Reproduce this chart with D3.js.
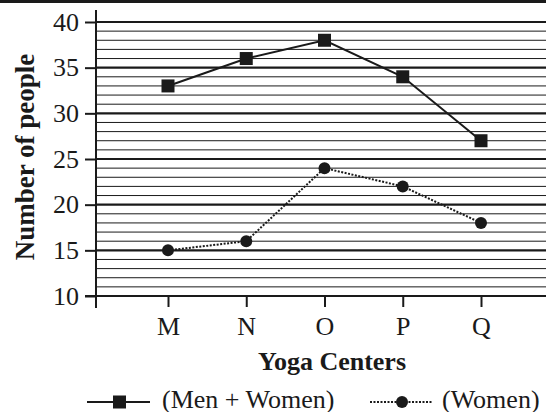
<!DOCTYPE html>
<html><head><meta charset="utf-8">
<script src="https://cdn.jsdelivr.net/npm/d3@7"></script>
<style>body{margin:0;background:#fff}svg{display:block}</style>
</head><body>
<script>
const categories = ["M","N","O","P","Q"];
const menWomen = [33,36,38,34,27];
const women = [15,16,24,22,18];
const yTicks = [10,15,20,25,30,35,40];

(function(){
const W=546,H=412;
const svg=d3.select("body").append("svg").attr("width",W).attr("height",H);
const font="Liberation Serif, Times New Roman, serif";
const ink="#1a1a1a";
const fs=26;
svg.append("rect").attr("x",0).attr("y",0).attr("width",W).attr("height",3).attr("fill",ink);

const pL=96,pR=546,pT=22,pB=296;
const y=d3.scaleLinear().domain([10,40]).range([pB,pT]);
const x=d3.scalePoint().domain(categories).range([168,481]);

// grid
const g=svg.append("g");
d3.range(11,41).forEach(v=>{
  const major=v%5===0;
  g.append("line").attr("x1",pL).attr("x2",pR).attr("y1",y(v)).attr("y2",y(v))
   .attr("stroke",ink).attr("stroke-width",major?2.2:1);
});
// y axis
const ya=svg.append("g").attr("transform",`translate(${pL},0)`)
 .call(d3.axisLeft(y).tickValues(yTicks).tickSize(11).tickPadding(6));
ya.select(".domain").attr("stroke",ink).attr("stroke-width",2).attr("d",`M0,${pT-12}V${pB+12}`);
ya.selectAll(".tick line").attr("stroke",ink).attr("stroke-width",2);
ya.selectAll(".tick text").attr("font-family",font).attr("font-size",fs).attr("fill",ink);

// x axis
const xa=svg.append("g").attr("transform",`translate(0,${pB})`)
 .call(d3.axisBottom(x).tickSize(11).tickPadding(8));
xa.select(".domain").attr("stroke",ink).attr("stroke-width",2).attr("d",`M85,0H${pR}`);
xa.selectAll(".tick line").attr("stroke",ink).attr("stroke-width",2);
xa.selectAll(".tick text").attr("font-family",font).attr("font-size",fs).attr("fill",ink)
  .attr("dy",null).attr("y",39);

// lines
const line=d3.line().x((d,i)=>x(categories[i])).y(d=>y(d));
svg.append("path").datum(menWomen).attr("d",line).attr("fill","none").attr("stroke",ink).attr("stroke-width",2);
svg.append("path").datum(women).attr("d",line).attr("fill","none").attr("stroke",ink).attr("stroke-width",2).attr("stroke-dasharray","2,1.5");
svg.selectAll(".sq").data(menWomen).enter().append("rect")
 .attr("x",(d,i)=>x(categories[i])-6.5).attr("y",d=>y(d)-6.5).attr("width",13).attr("height",13).attr("fill",ink);
svg.selectAll(".ci").data(women).enter().append("circle")
 .attr("cx",(d,i)=>x(categories[i])).attr("cy",d=>y(d)).attr("r",6).attr("fill",ink);

// axis titles
svg.append("text").attr("x",332).attr("y",370).attr("text-anchor","middle")
 .attr("font-family",font).attr("font-size",fs).attr("font-weight","bold").attr("fill",ink).text("Yoga Centers");
svg.append("text").attr("transform","translate(34,157) rotate(-90)").attr("text-anchor","middle")
 .attr("font-family",font).attr("font-size",27).attr("font-weight","bold").attr("fill",ink).text("Number of people");

// legend
const ly=402;
svg.append("line").attr("x1",87).attr("x2",150).attr("y1",ly).attr("y2",ly).attr("stroke",ink).attr("stroke-width",2);
svg.append("rect").attr("x",113).attr("y",ly-6.5).attr("width",13).attr("height",13).attr("fill",ink);
svg.append("text").attr("x",162).attr("y",408).attr("font-family",font).attr("font-size",fs).attr("fill",ink).text("(Men + Women)");
svg.append("line").attr("x1",370).attr("x2",432).attr("y1",ly).attr("y2",ly).attr("stroke",ink).attr("stroke-width",2).attr("stroke-dasharray","2,1.5");
svg.append("circle").attr("cx",402).attr("cy",ly).attr("r",6).attr("fill",ink);
svg.append("text").attr("x",442).attr("y",408).attr("font-family",font).attr("font-size",fs).attr("fill",ink).text("(Women)");
})();
</script>
</body></html>
